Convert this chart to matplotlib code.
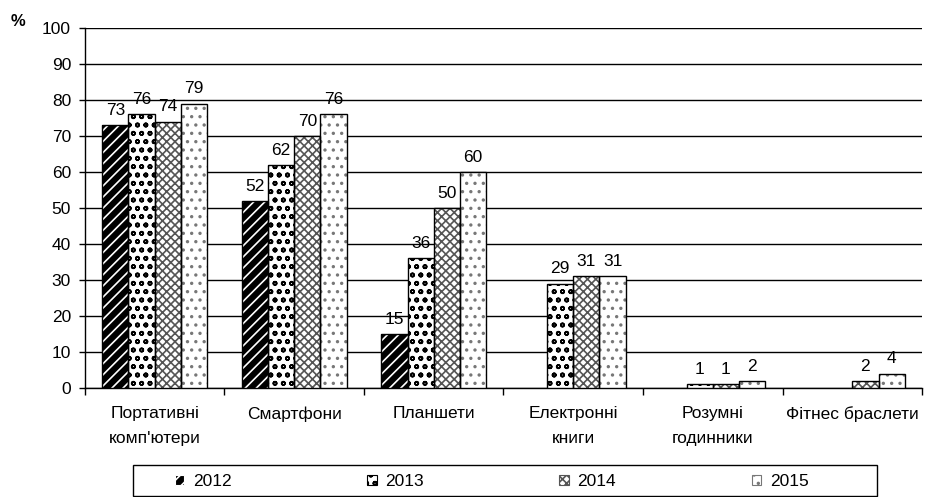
import numpy as np
import matplotlib
matplotlib.use("Agg")
import matplotlib.pyplot as plt
from matplotlib.patches import Patch, Rectangle

plt.rcParams['font.family'] = ['Liberation Sans', 'DejaVu Sans']
plt.rcParams['hatch.linewidth'] = 1.2

categories = ["Портативні\nкомп'ютери", "Смартфони", "Планшети",
              "Електронні\nкниги", "Розумні\nгодинники", "Фітнес браслети"]
years = ["2012", "2013", "2014", "2015"]

# None = no bar for that year
vals_2012 = [73, 52, 15, None, None, None]
vals_2013 = [76, 62, 36, 29, 1, None]
vals_2014 = [74, 70, 50, 31, 1, 2]
vals_2015 = [79, 76, 60, 31, 2, 4]
series = [vals_2012, vals_2013, vals_2014, vals_2015]

# face, hatch, hatch colour
styles = [
    ("black", "///", "white"),
    ("white", "oo", "black"),
    ("white", "xxxx", "#555555"),
    ("white", "..", "#777777"),
]

fig = plt.figure(figsize=(9.42, 4.97), dpi=100)
ax = fig.add_axes([0.0902, 0.2193, 0.8886, 0.7244])

x = np.arange(len(categories))
width = 0.188
offsets = (np.arange(4) - 1.5) * width

for i, vals in enumerate(series):
    face, hatch, hcol = styles[i]
    xs = [x[j] + offsets[i] for j, v in enumerate(vals) if v is not None]
    hs = [v for v in vals if v is not None]
    # hatch layer, then outline on top
    ax.bar(xs, hs, width, color=face, hatch=hatch, edgecolor=hcol, linewidth=0, zorder=3)
    ax.bar(xs, hs, width, fill=False, edgecolor="black", linewidth=1.0, zorder=4)
    for xx, h in zip(xs, hs):
        ax.text(xx, h + 2, str(h), ha="center", va="bottom", fontsize=12.5, zorder=5)

ax.set_xlim(-0.5, len(categories) - 0.5)
ax.set_ylim(0, 100)
ax.set_yticks(range(0, 101, 10))
ax.tick_params(axis="y", labelsize=12.5, length=4, width=1, pad=6)
ax.yaxis.grid(True, color="black", linewidth=1)
ax.set_axisbelow(True)

ax.set_xticks(np.arange(len(categories) + 1) - 0.5, minor=False)
ax.set_xticklabels([])
ax.tick_params(axis="x", length=5, width=1)
ax.set_xticks(x, minor=True)
ax.set_xticklabels(categories, minor=True, fontsize=12.5, linespacing=1.85)
ax.tick_params(axis="x", which="minor", length=0, pad=13)

for s in ["top", "right"]:
    ax.spines[s].set_visible(False)
ax.spines["left"].set_linewidth(1)
ax.spines["bottom"].set_linewidth(1)

fig.text(0.011, 0.956, "%", fontsize=12, fontweight="bold", ha="left", va="center")

# legend box
fig.add_artist(Rectangle((133 / 942, 1 - 496 / 497), (877 - 133) / 942, 31 / 497,
                         transform=fig.transFigure, fill=False,
                         edgecolor="black", linewidth=1))
handles = []
for i in range(4):
    face, hatch, hcol = styles[i]
    handles.append(Patch(facecolor=face, hatch=hatch, edgecolor=hcol, linewidth=0.8))
leg = fig.legend(handles, years, loc="center",
                 bbox_to_anchor=(0.522, 0.031),
                 ncol=4, fontsize=12.5, frameon=False,
                 handlelength=0.55, handleheight=0.55,
                 handletextpad=0.5, columnspacing=7.8, borderaxespad=0)

fig.savefig("out.png", dpi=100)
